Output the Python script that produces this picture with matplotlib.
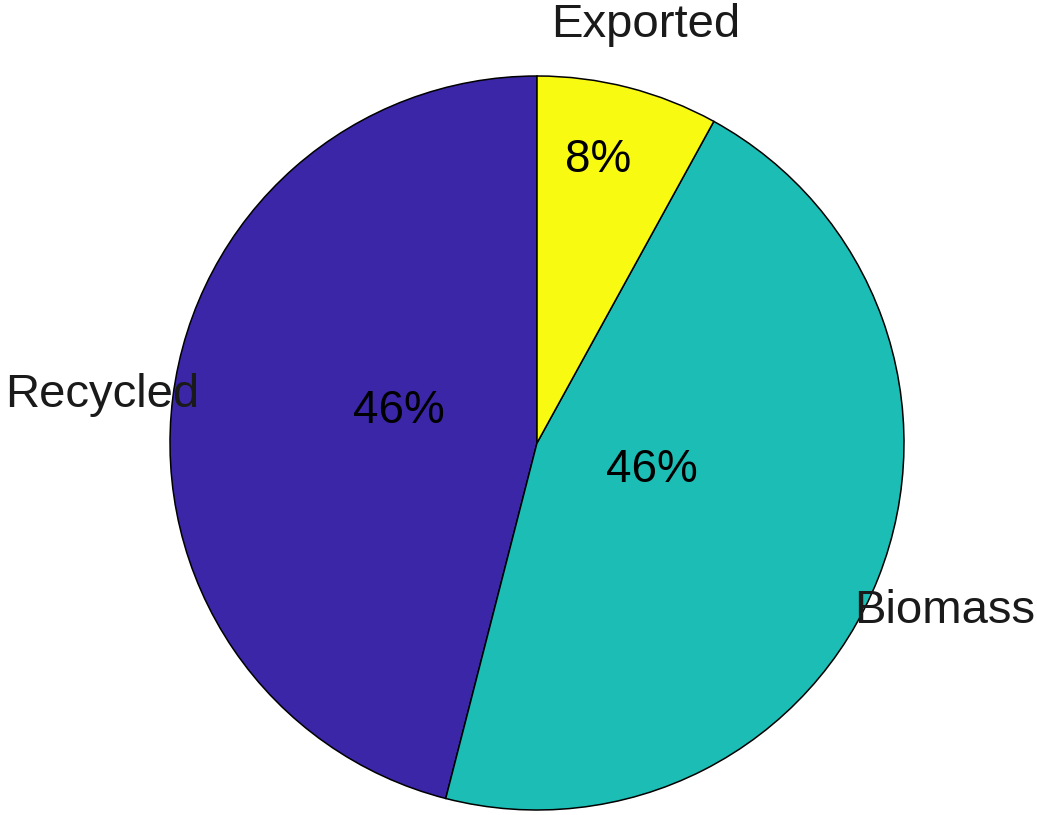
import numpy as np
import matplotlib
matplotlib.use("Agg")
import matplotlib.pyplot as plt

# shares of the flow, counter-clockwise from 12 o'clock
labels = ["Recycled", "Biomass", "Exported"]
values = [46, 46, 8]
colors = ["#3C26A8", "#1CBDB5", "#F9FA12"]

# percentage text placement (radius, angle in degrees)
pct_radius = [0.39, 0.32, 0.80]
pct_angle = [165.5, -11.3, 78.0]

plt.rcParams["font.family"] = ["Liberation Sans", "DejaVu Sans"]

scale = 367.0          # pixels per unit radius
drop = 16.0 / scale    # half cap height, so text sits on its baseline

fig = plt.figure(figsize=(10.37, 8.15), dpi=100)
ax = fig.add_axes([0, 0, 1, 1])

wedges, texts = ax.pie(values, colors=colors, labels=labels, startangle=90,
                       counterclock=True, labeldistance=1.195,
                       wedgeprops=dict(edgecolor="black", linewidth=1.1),
                       textprops=dict(fontsize=34, color="#1a1a1a"))
for t in texts:
    x, y = t.get_position()
    t.set_position((x, y - drop - 3.0 / scale))
    t.set_horizontalalignment("center")
    t.set_verticalalignment("baseline")

total = sum(values)
for v, r, a in zip(values, pct_radius, pct_angle):
    th = np.deg2rad(a)
    ax.text(r * np.cos(th), r * np.sin(th) - drop, f"{round(100 * v / total)}%",
            ha="center", va="baseline", fontsize=33, color="black")

# unit circle centred in the frame
ax.set_xlim(-537 / scale, (1037 - 537) / scale)
ax.set_ylim((443 - 815) / scale, 443 / scale)
ax.set_aspect("equal")
ax.axis("off")

fig.savefig("out.png", dpi=100)
